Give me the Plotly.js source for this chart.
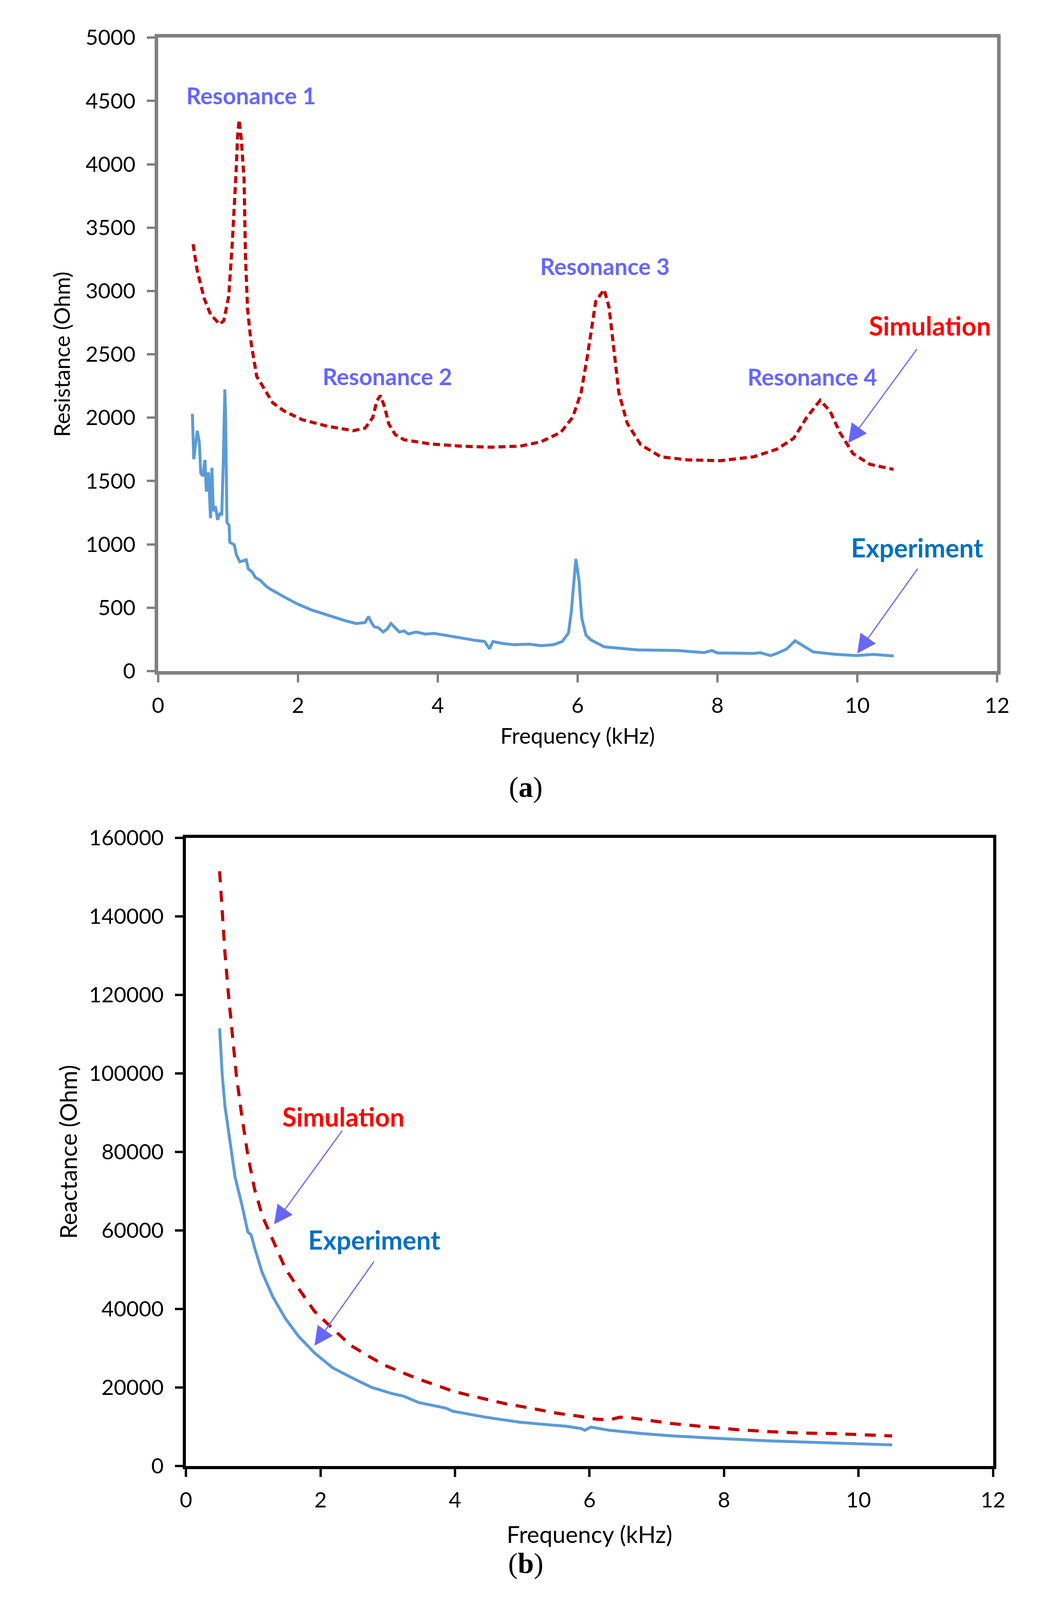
<!DOCTYPE html>
<html>
<head>
<meta charset="utf-8">
<script src="https://cdn.plot.ly/plotly-3.0.1.min.js"></script>
<style>
  html, body { margin: 0; padding: 0; background: #fff; overflow: hidden; }
  #plot { width: 2668px; height: 4096px; }
</style>
</head>
<body>
<div id="plot"></div>
<script>
// (a) resistance, simulation
const resSimFreq = [0.50, 0.56, 0.66, 0.75, 0.88, 0.94, 1.01, 1.06, 1.11, 1.14, 1.16, 1.19, 1.23, 1.25, 1.28, 1.33, 1.41, 1.51, 1.64, 1.81, 2.06, 2.41, 2.79, 2.96, 3.07, 3.13, 3.18, 3.24, 3.30, 3.39, 3.52, 3.90, 4.33, 4.76, 5.18, 5.48, 5.76, 5.93, 6.05, 6.14, 6.26, 6.38, 6.45, 6.52, 6.59, 6.71, 6.90, 7.19, 7.57, 8.04, 8.52, 8.85, 9.09, 9.28, 9.47, 9.61, 9.75, 9.94, 10.18, 10.52];
const resSim = [3370, 3160, 2940, 2815, 2738, 2766, 2958, 3367, 3879, 4245, 4351, 4200, 3879, 3266, 2856, 2591, 2326, 2234, 2117, 2050, 1984, 1934, 1897, 1917, 2000, 2134, 2175, 2084, 1950, 1867, 1825, 1792, 1775, 1767, 1775, 1810, 1884, 2003, 2197, 2485, 2919, 3011, 2871, 2535, 2197, 1956, 1788, 1691, 1667, 1660, 1691, 1751, 1836, 2004, 2137, 2052, 1884, 1716, 1632, 1591];

// (a) resistance, experiment
const resExpFreq = [0.49, 0.51, 0.56, 0.59, 0.61, 0.64, 0.67, 0.69, 0.72, 0.75, 0.77, 0.79, 0.82, 0.85, 0.89, 0.91, 0.93, 0.945, 0.955, 0.965, 0.975, 0.985, 1.016, 1.025, 1.09, 1.12, 1.17, 1.26, 1.29, 1.35, 1.39, 1.46, 1.55, 1.61, 1.81, 1.98, 2.19, 2.41, 2.66, 2.83, 2.96, 3.01, 3.05, 3.09, 3.15, 3.22, 3.28, 3.33, 3.39, 3.45, 3.52, 3.58, 3.69, 3.82, 3.95, 4.12, 4.33, 4.54, 4.67, 4.74, 4.79, 4.93, 5.10, 5.31, 5.48, 5.66, 5.78, 5.87, 5.91, 5.95, 5.975, 6.02, 6.06, 6.12, 6.19, 6.38, 6.86, 7.43, 7.81, 7.92, 8.00, 8.52, 8.61, 8.76, 8.85, 8.99, 9.11, 9.23, 9.37, 9.70, 9.99, 10.23, 10.52];
const resExp = [2030, 1672, 1895, 1806, 1562, 1539, 1667, 1417, 1568, 1206, 1605, 1261, 1300, 1194, 1251, 1228, 1605, 2217, 2222, 2018, 1384, 1173, 1150, 1017, 996, 917, 862, 878, 806, 778, 739, 717, 667, 645, 583, 533, 483, 442, 400, 375, 383, 430, 383, 350, 342, 308, 333, 375, 342, 308, 317, 292, 308, 292, 297, 280, 258, 242, 233, 175, 233, 217, 208, 212, 200, 208, 233, 300, 467, 750, 884, 717, 417, 283, 246, 191, 167, 162, 145, 162, 143, 139, 145, 122, 139, 174, 239, 198, 151, 131, 122, 131, 119];

// (b) reactance, simulation
const reaSimFreq = [0.50, 0.54, 0.58, 0.63, 0.69, 0.75, 0.83, 0.92, 1.02, 1.14, 1.28, 1.48, 1.67, 1.91, 2.18, 2.45, 2.73, 2.96, 3.23, 3.46, 3.73, 3.96, 4.23, 4.50, 4.76, 5.03, 5.30, 5.56, 5.83, 6.10, 6.30, 6.45, 6.63, 6.92, 7.24, 7.71, 8.18, 8.65, 9.12, 9.59, 10.06, 10.50];
const reaSim = [151500, 140700, 130600, 120400, 109500, 99400, 89200, 79100, 70500, 63500, 58000, 50200, 45300, 39400, 35000, 30700, 27800, 25600, 23700, 22100, 20500, 19100, 17900, 16800, 15800, 15000, 14100, 13300, 12700, 11900, 11750, 12400, 12200, 11560, 10750, 10000, 9250, 8750, 8370, 8250, 8000, 7620];

// (b) reactance, experiment
const reaExpFreq = [0.50, 0.54, 0.58, 0.66, 0.73, 0.83, 0.90, 0.92, 0.97, 1.02, 1.13, 1.19, 1.29, 1.48, 1.67, 1.91, 2.18, 2.45, 2.76, 3.02, 3.06, 3.23, 3.37, 3.46, 3.87, 3.96, 4.46, 4.96, 5.37, 5.65, 5.88, 5.93, 6.02, 6.30, 6.77, 7.24, 7.71, 8.18, 8.65, 9.12, 9.59, 10.06, 10.50];
const reaExp = [111500, 99400, 91600, 81400, 73600, 66600, 61000, 59600, 58800, 55600, 49400, 47100, 43100, 37500, 33100, 28800, 25000, 22600, 20000, 18650, 18440, 17800, 16880, 16150, 14680, 13950, 12390, 11130, 10500, 10120, 9500, 9060, 9880, 9060, 8250, 7620, 7190, 6750, 6380, 6120, 5870, 5630, 5350];

const RED = '#C00000';
const BLUE = '#5B9BD5';
const VIOLET = '#6666FF';
const FONT = 'Lato, "Open Sans", sans-serif';

// the browser only shows 4096px of height, so the 4342px figure is squeezed into it
const W = 2668, H = 4096, REF_H = 4342;

const traces = [
  { x: resSimFreq, y: resSim, xaxis: 'x', yaxis: 'y', mode: 'lines', name: 'Simulation',
    line: { color: RED, width: 8, dash: '18px,10px' } },
  { x: resExpFreq, y: resExp, xaxis: 'x', yaxis: 'y', mode: 'lines', name: 'Experiment',
    line: { color: BLUE, width: 7.5 } },
  { x: reaSimFreq, y: reaSim, xaxis: 'x2', yaxis: 'y2', mode: 'lines', name: 'Simulation',
    line: { color: RED, width: 8, dash: '28px,22px' } },
  { x: reaExpFreq, y: reaExp, xaxis: 'x2', yaxis: 'y2', mode: 'lines', name: 'Experiment',
    line: { color: BLUE, width: 7.5 } }
];

function label(text, x, y, color, size, ref) {
  return { text: '<b>' + text + '</b>', x: x, y: y, xref: ref[0], yref: ref[1], showarrow: false,
    font: { family: FONT, size: size, color: color } };
}
function arrow(x, y, ax, ay, ref) {
  return { text: '', x: x, y: y, ax: ax, ay: ay, xref: ref[0], yref: ref[1], axref: ref[0], ayref: ref[1],
    showarrow: true, arrowhead: 2, arrowsize: 3.2, arrowwidth: 3, arrowcolor: VIOLET };
}

const A = ['x', 'y'];
const B = ['x2', 'y2'];

const annotations = [
  label('Resonance 1', 1.33, 4544, VIOLET, 59, A),
  label('Resonance 2', 3.28, 2327, VIOLET, 59, A),
  label('Resonance 3', 6.39, 3196, VIOLET, 59, A),
  label('Resonance 4', 9.36, 2324, VIOLET, 59, A),
  label('Simulation', 11.04, 2726, '#FF0000', 66, A),
  label('Experiment', 10.86, 974, '#0070C0', 66, A),
  arrow(9.87, 1800, 10.86, 2546, A),
  arrow(10.0, 139, 10.87, 813, A),
  label('Simulation', 2.34, 89000, '#FF0000', 66, B),
  label('Experiment', 2.80, 57650, '#0070C0', 66, B),
  arrow(1.31, 61540, 2.33, 85580, B),
  arrow(1.91, 30630, 2.80, 52190, B),
  { text: '(<b>a</b>)', xref: 'paper', yref: 'paper', x: 1346 / W, y: 1 - 2136 / REF_H, showarrow: false,
    font: { family: '"Liberation Serif", serif', size: 74, color: '#000' } },
  { text: '(<b>b</b>)', xref: 'paper', yref: 'paper', x: 1346 / W, y: 1 - 4288 / REF_H, showarrow: false,
    font: { family: '"Liberation Serif", serif', size: 74, color: '#000' } }
];

function axis(opts) {
  return Object.assign({
    showgrid: false, zeroline: false, showline: true, mirror: true,
    ticks: 'outside', ticklen: 20, tickwidth: 6,
    tickfont: { family: FONT, size: 55, color: '#000' },
    fixedrange: true
  }, opts);
}

const layout = {
  width: W,
  height: H,
  margin: { l: 0, r: 0, t: 0, b: 0 },
  paper_bgcolor: '#fff',
  plot_bgcolor: '#fff',
  showlegend: false,
  xaxis: axis({ domain: [404.8 / W, 2553 / W], range: [0, 12], dtick: 2, anchor: 'y',
    linecolor: '#808080', linewidth: 9, tickcolor: '#808080', ticklabelstandoff: 12,
    title: { text: 'Frequency (kHz)', font: { family: FONT, size: 56, color: '#000' } } }),
  yaxis: axis({ domain: [1 - 1821 / REF_H, 1 - 102 / REF_H], range: [0, 5000], dtick: 500, anchor: 'x',
    linecolor: '#808080', linewidth: 9, tickcolor: '#808080', ticklabelstandoff: 18, tickformat: 'd',
    title: { text: 'Resistance (Ohm)', standoff: 25, font: { family: FONT, size: 56, color: '#000' } } }),
  xaxis2: axis({ domain: [476.2 / W, 2542.6 / W], range: [0, 12], dtick: 2, anchor: 'y2',
    linecolor: '#000', linewidth: 8, tickcolor: '#000', ticklabelstandoff: 12,
    title: { text: 'Frequency (kHz)', font: { family: FONT, size: 60, color: '#000' } } }),
  yaxis2: axis({ domain: [1 - 3978 / REF_H, 1 - 2274 / REF_H], range: [0, 160000], dtick: 20000, anchor: 'x2',
    linecolor: '#000', linewidth: 8, tickcolor: '#000', ticklabelstandoff: 18, tickformat: 'd',
    title: { text: 'Reactance (Ohm)', standoff: 14, font: { family: FONT, size: 60, color: '#000' } } }),
  annotations: annotations
};

Plotly.newPlot(document.getElementById('plot'), traces, layout, { displayModeBar: false, staticPlot: true });
</script>
</body>
</html>
